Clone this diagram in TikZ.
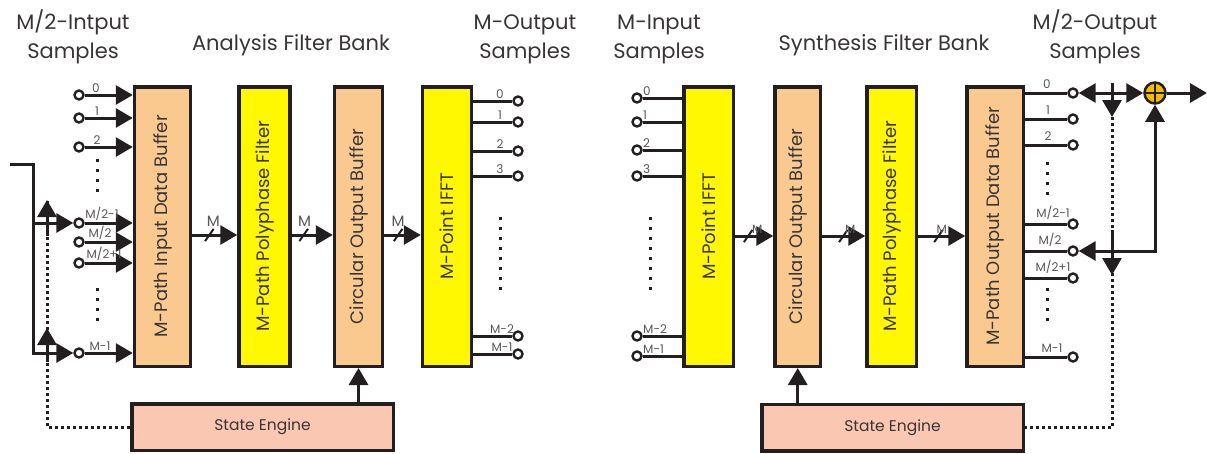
\documentclass[tikz,border=0pt]{standalone}
\usepackage{fontspec}
\setmainfont{Poppins}
\definecolor{peach}{RGB}{250,201,143}
\definecolor{lemon}{RGB}{255,248,0}
\definecolor{salmon}{RGB}{250,200,178}
\definecolor{gold}{RGB}{242,190,0}
\definecolor{ink}{RGB}{35,31,32}
\usetikzlibrary{positioning,shapes,arrows.meta}

\begin{document}
\begin{tikzpicture}[
    x=1pt, y=-1pt,
    buffer/.style={rectangle, minimum height=279.5pt, inner sep=0pt, text centered, draw=ink, line width=3.5pt, fill=peach, text=ink!90, font=\fontsize{18}{18}\selectfont},
    filter/.style={buffer, fill=lemon},
    engine/.style={rectangle, minimum width=261.5pt, minimum height=46.5pt, draw=ink, line width=3.5pt, fill=salmon, text=ink!90, font=\fontsize{15.5}{15.5}\selectfont},
    port/.style={circle, draw=ink, fill=white, line width=2.4pt, inner sep=0pt, minimum size=9pt},
    adder/.style={circle, draw=ink, fill=gold, line width=2.5pt, inner sep=0pt, minimum size=21pt},
    tag/.style={font=\fontsize{12}{12}\selectfont, text=ink!75, inner sep=0pt},
    title/.style={font=\fontsize{21}{29}\selectfont, align=center, text=ink!90, inner sep=0pt},
    wire/.style={draw=ink, line width=3pt},
    arrow/.style={wire, -{Triangle[length=17pt,width=19pt]}},
    twoway/.style={wire, {Triangle[length=17pt,width=19pt]}-{Triangle[length=17pt,width=19pt]}},
    slash/.style={rectangle, draw=ink, line width=2pt, minimum width=15pt, minimum height=0pt, inner sep=0pt, rotate=55},
    ctrl/.style={draw=ink, line width=3pt, dash pattern=on 3pt off 3pt},
    ellip/.style={draw=ink, line width=3pt, dash pattern=on 3pt off 7pt}
]
\useasboundingbox (0,0) rectangle (1207,453);

% Titles
\node[title, anchor=base] (lhead) at (73,58) {M/2-Intput\\Samples};
\node[title, anchor=base] (ltitle) at (291,50) {Analysis Filter Bank};
\node[title, anchor=base] (lout) at (525,58) {M-Output\\Samples};
\node[title, anchor=base] (rhead) at (659,58) {M-Input\\Samples};
\node[title, anchor=base] (rtitle) at (884,50) {Synthesis Filter Bank};
\node[title, anchor=base] (rout) at (1095,58) {M/2-Output\\Samples};

% Analysis blocks
\node[buffer, minimum width=56pt] (ibuf) at (162.5,226.5) {\rotatebox{90}{M-Path Input Data Buffer}};
\node[filter, minimum width=51pt, right=45pt of ibuf] (lpoly) {\rotatebox{90}{M-Path Polyphase Filter}};
\node[buffer, minimum width=48pt, right=41pt of lpoly] (lcirc) {\rotatebox{90}{Circular Output Buffer}};
\node[filter, minimum width=49pt, right=36.5pt of lcirc] (lifft) {\rotatebox{90}{M-Point IFFT}};
\node[engine] (lstate) at (262.5,427) {State Engine};

% Synthesis blocks
\node[filter, minimum width=49.5pt, right=209pt of lifft] (rifft) {\rotatebox{90}{M-Point IFFT}};
\node[buffer, minimum width=45.5pt, right=38pt of rifft] (rcirc) {\rotatebox{90}{Circular Output Buffer}};
\node[filter, minimum width=49.5pt, right=43pt of rcirc] (rpoly) {\rotatebox{90}{M-Path Polyphase Filter}};
\node[buffer, minimum width=56.5pt, right=47pt of rpoly] (obuf) {\rotatebox{90}{M-Path Output Data Buffer}};
\node[engine] (rstate) at (892.5,427.5) {State Engine};

% Analysis ports
\foreach \n/\y/\t/\x in {0/95/0/96, 1/118/1/97, 2/147/2/97, 3/223/{M/2-1}/102, 4/242/{M/2}/100, 5/263/{M/2+1}/104, 6/353/{M-1}/100}{
  \node[port] (li\n) at (79,\y) {};
  \draw[arrow] (li\n) -- (li\n -| ibuf.west);
  \node[tag, anchor=south] at (\x,\y-2) {\t};
}
\foreach \n/\y/\t/\x in {0/101/0/500, 1/122/1/500, 2/151/2/500, 3/176/3/500, 4/336/{M-2}/502, 5/354/{M-1}/502}{
  \node[port] (lo\n) at (518,\y) {};
  \draw[wire] (lo\n -| lifft.east) -- (lo\n);
  \node[tag, anchor=south] at (\x,\y-2) {\t};
}
\draw[ellip] (97,159) -- (97,193);
\draw[ellip] (97,288) -- (97,325);
\draw[ellip] (500,217) -- (500,290);

% Synthesis ports
\foreach \n/\y/\t in {0/98/0, 1/122/1, 2/150/2, 3/176/3, 4/336/{M-2}, 5/356/{M-1}}{
  \node[port] (ri\n) at (637,\y) {};
  \draw[wire] (ri\n) -- (ri\n -| rifft.west);
  \node[tag, anchor=south west] at (643,\y-2) {\t};
}
\foreach \n/\y/\t/\x in {0/93/0/1047, 1/119/1/1048, 2/145/2/1048, 3/224/{M/2-1}/1053, 4/251/{M/2}/1050, 5/278/{M/2+1}/1053, 6/357/{M-1}/1052}{
  \node[port] (ro\n) at (1073,\y) {};
  \draw[wire] (ro\n -| obuf.east) -- (ro\n);
  \node[tag, anchor=south] at (\x,\y-4) {\t};
}
\draw[ellip] (650,217) -- (650,290);
\draw[ellip] (1047,162) -- (1047,196);
\draw[ellip] (1047,288) -- (1047,325);

% Input commutator
\coordinate (feed) at (10,164);
\coordinate (bus) at (33,164);
\draw[arrow] (feed) -- (bus) |- (li6);
\draw[arrow] (bus |- li3) -- (li3);
\coordinate (lsw1) at (47,200);
\coordinate (lsw2) at (47,328);
\draw[ctrl] (lstate.west) -| (lsw1);
\draw[arrow] ([yshift=-36pt]lsw1) -- (lsw1);
\draw[arrow] ([yshift=-34pt]lsw2) -- (lsw2);

% Output commutator
\node[adder, path picture={\draw[ink, line width=2pt] (path picture bounding box.north) -- (path picture bounding box.south) (path picture bounding box.west) -- (path picture bounding box.east);}] (sum) at (1155,93) {};
\coordinate (yout) at (1207,93);
\draw[arrow] (sum) -- (yout);
\draw[twoway] (ro0) -- (sum);
\draw[twoway] (ro4) -| (sum);
\coordinate (rsw0) at (1112,83);
\coordinate (rsw1) at (1112,117);
\coordinate (rsw2) at (1112,275);
\draw[ctrl] (rsw1) |- (rstate.east);
\draw[arrow] (rsw0) -- (rsw1);
\draw[arrow] ([yshift=45pt]rsw2) -- (rsw2);

% Arrows
\draw[arrow] ([yshift=-8.5pt]ibuf.east) -- node[slash, pos=.38] {} node[tag, font=\fontsize{15}{15}\selectfont, pos=.47, above=7pt] {M} ([yshift=-8.5pt]lpoly.west);
\draw[arrow] ([yshift=-8.5pt]lpoly.east) -- node[slash, pos=.29] {} node[tag, font=\fontsize{15}{15}\selectfont, pos=.31, above=7pt] {M} ([yshift=-8.5pt]lcirc.west);
\draw[arrow] ([yshift=-8.5pt]lcirc.east) -- node[slash, pos=.38] {} node[tag, font=\fontsize{15}{15}\selectfont, pos=.38, above=7pt] {M} ([yshift=-8.5pt]lifft.west);
\draw[arrow] ([yshift=-9.5pt]rifft.east) -- node[slash, pos=.34] {} node[tag, font=\fontsize{12}{12}\selectfont, pos=.58, above=1pt] {M} ([yshift=-9.5pt]rcirc.west);
\draw[arrow] ([yshift=-9.5pt]rcirc.east) -- node[slash, pos=.49] {} node[tag, font=\fontsize{12}{12}\selectfont, pos=.65, above=1pt] {M} ([yshift=-9.5pt]rpoly.west);
\draw[arrow] ([yshift=-9.5pt]rpoly.east) -- node[slash, pos=.43] {} node[tag, font=\fontsize{12}{12}\selectfont, pos=.5, above=1pt] {M} ([yshift=-9.5pt]obuf.west);
\draw[arrow] (lstate.north -| lcirc) -- (lcirc.south);
\draw[arrow] (rstate.north -| rcirc) -- (rcirc.south);

\end{tikzpicture}
\end{document}
